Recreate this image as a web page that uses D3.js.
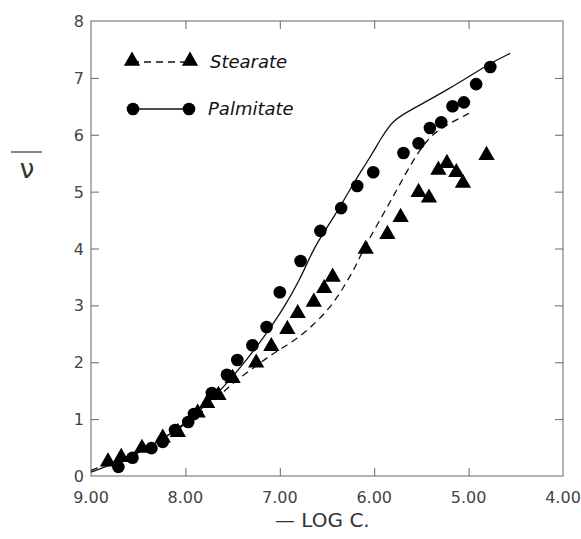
<!DOCTYPE html>
<html>
<head>
<meta charset="utf-8">
<script src="https://cdn.jsdelivr.net/npm/d3@7"></script>
<style>
  body { margin: 0; background: #fff; }
  text { font-family: "DejaVu Sans", "Liberation Sans", sans-serif; }
</style>
</head>
<body>
<script>
// -log C on x, nu-bar on y
let xTicks = [9, 8, 7, 6, 5, 4];
let xTickLabels = ['9.00', '8.00', '7.00', '6.00', '5.00', '4.00'];
let yTicks = [0, 1, 2, 3, 4, 5, 6, 7, 8];

// palmitate points (circles)
let palmX = [8.71, 8.56, 8.36, 8.24, 8.11, 7.97, 7.91, 7.72, 7.56, 7.45, 7.29, 7.14, 7.00,
    6.78, 6.57, 6.35, 6.18, 6.01, 5.69, 5.53, 5.41, 5.29, 5.17, 5.05, 4.92, 4.77];
let palmY = [0.16, 0.32, 0.49, 0.60, 0.81, 0.95, 1.09, 1.46, 1.78, 2.04, 2.30, 2.62, 3.23,
    3.78, 4.31, 4.71, 5.10, 5.34, 5.68, 5.85, 6.12, 6.22, 6.50, 6.57, 6.89, 7.19];

// stearate points (triangles)
let stearX = [8.82, 8.68, 8.46, 8.24, 8.08, 7.87, 7.77, 7.65, 7.50, 7.25, 7.09, 6.92, 6.81,
    6.64, 6.53, 6.44, 6.09, 5.86, 5.72, 5.53, 5.42, 5.32, 5.23, 5.13, 5.06, 4.81];
let stearY = [0.25, 0.33, 0.49, 0.67, 0.77, 1.11, 1.28, 1.42, 1.72, 1.99, 2.28, 2.58, 2.86,
    3.06, 3.30, 3.50, 3.99, 4.25, 4.55, 4.99, 4.89, 5.38, 5.50, 5.34, 5.15, 5.64];

// fitted curves
let palmCurveX = [9.00, 8.56, 8.11, 7.72, 7.56, 7.35, 7.14, 6.97, 6.79, 6.65, 6.54, 6.36,
    6.22, 6.04, 5.92, 5.80, 5.62, 5.23, 4.77, 4.56];
let palmCurveY = [0.07, 0.33, 0.77, 1.34, 1.63, 2.04, 2.51, 2.92, 3.44, 3.97, 4.27, 4.73,
    5.15, 5.61, 5.96, 6.26, 6.43, 6.78, 7.26, 7.43];
let stearCurveX = [9.00, 8.56, 8.11, 7.72, 7.56, 7.28, 7.07, 6.86, 6.65, 6.44, 6.29, 6.18,
    6.12, 5.94, 5.76, 5.59, 5.44, 5.30, 4.99];
let stearCurveY = [0.10, 0.37, 0.77, 1.25, 1.56, 1.90, 2.16, 2.36, 2.64, 3.01, 3.41, 3.74,
    3.97, 4.50, 5.03, 5.55, 5.91, 6.12, 6.38];

let width = 581, height = 539;
let margin = { top: 21, right: 18, bottom: 63, left: 91 };

let svg = d3.select("body")
    .append("svg")
    .attr("width", width)
    .attr("height", height);

let x = d3.scaleLinear().domain([9, 4]).range([margin.left, width - margin.right]);
let y = d3.scaleLinear().domain([0, 8]).range([height - margin.bottom, margin.top]);

let axisColor = '#666';
let tickLen = 8;

// frame
svg.append('rect')
    .attr('x', x(9))
    .attr('y', y(8))
    .attr('width', x(4) - x(9))
    .attr('height', y(0) - y(8))
    .attr('fill', 'none')
    .attr('stroke', axisColor)
    .attr('stroke-width', 1);

// axes, ticks pointing inward
svg.append('g')
    .attr('transform', `translate(0,${y(0)})`)
    .call(d3.axisTop(x).tickValues(xTicks.slice(1, 5)).tickSize(tickLen).tickFormat(''))
    .call(g => g.select('.domain').remove());
svg.append('g')
    .attr('transform', `translate(0,${y(8)})`)
    .call(d3.axisBottom(x).tickValues(xTicks.slice(1, 5)).tickSize(tickLen).tickFormat(''))
    .call(g => g.select('.domain').remove());
svg.append('g')
    .attr('transform', `translate(${x(9)},0)`)
    .call(d3.axisRight(y).tickValues(yTicks.slice(1, 8)).tickSize(tickLen).tickFormat(''))
    .call(g => g.select('.domain').remove());
svg.append('g')
    .attr('transform', `translate(${x(4)},0)`)
    .call(d3.axisLeft(y).tickValues(yTicks.slice(1, 8)).tickSize(tickLen).tickFormat(''))
    .call(g => g.select('.domain').remove());
svg.selectAll('.tick line').attr('stroke', axisColor);

// tick labels
svg.selectAll('.xlab')
    .data(xTicks)
    .enter().append('text')
    .attr('x', d => x(d))
    .attr('y', y(0) + 27)
    .attr('text-anchor', 'middle')
    .attr('font-size', 16)
    .attr('fill', '#444')
    .text((d, i) => xTickLabels[i]);

svg.selectAll('.ylab')
    .data(yTicks)
    .enter().append('text')
    .attr('x', x(9) - 7)
    .attr('y', d => y(d) + 6)
    .attr('text-anchor', 'end')
    .attr('font-size', 16)
    .attr('fill', '#444')
    .text(d => d);

// axis titles
svg.append('text')
    .attr('x', 275)
    .attr('y', 527)
    .attr('font-size', 20)
    .attr('fill', '#333')
    .text('\u2014 LOG C.');

svg.append('line')
    .attr('x1', 11).attr('x2', 42)
    .attr('y1', 152).attr('y2', 152)
    .attr('stroke', '#333')
    .attr('stroke-width', 1.2);
svg.append('text')
    .attr('x', 27)
    .attr('y', 178)
    .attr('text-anchor', 'middle')
    .attr('font-size', 26)
    .attr('font-family', '"DejaVu Serif", serif')
    .attr('fill', '#333')
    .text('\u03bd');

// curves - smooth b-spline through the traced points
let line = d3.line()
    .x(d => x(d[0]))
    .y(d => y(d[1]))
    .curve(d3.curveBasis);

svg.append('path')
    .datum(palmCurveX.map((v, i) => [v, palmCurveY[i]]))
    .attr('d', line)
    .attr('fill', 'none')
    .attr('stroke', '#111')
    .attr('stroke-width', 1.3);

svg.append('path')
    .datum(stearCurveX.map((v, i) => [v, stearCurveY[i]]))
    .attr('d', line)
    .attr('fill', 'none')
    .attr('stroke', '#111')
    .attr('stroke-width', 1.3)
    .attr('stroke-dasharray', '7,5');

let tri = d3.symbol().type(d3.symbolTriangle).size(115);

// markers
svg.selectAll('.stear')
    .data(stearX.map((v, i) => [v, stearY[i]]))
    .enter().append('path')
    .attr('d', tri)
    .attr('transform', d => `translate(${x(d[0])},${y(d[1])})`)
    .attr('fill', '#000');

svg.selectAll('.palm')
    .data(palmX.map((v, i) => [v, palmY[i]]))
    .enter().append('circle')
    .attr('cx', d => x(d[0]))
    .attr('cy', d => y(d[1]))
    .attr('r', 6.3)
    .attr('fill', '#000');

// legend
let legend = svg.append('g');
legend.append('line')
    .attr('x1', 132).attr('x2', 190)
    .attr('y1', 62).attr('y2', 62)
    .attr('stroke', '#111')
    .attr('stroke-width', 1.3)
    .attr('stroke-dasharray', '7,5');
legend.selectAll('.ltri')
    .data([132, 190])
    .enter().append('path')
    .attr('d', tri)
    .attr('transform', d => `translate(${d},61)`)
    .attr('fill', '#000');
legend.append('text')
    .attr('x', 210)
    .attr('y', 68)
    .attr('font-size', 18)
    .attr('font-style', 'italic')
    .attr('fill', '#111')
    .text('Stearate');

legend.append('line')
    .attr('x1', 133).attr('x2', 189)
    .attr('y1', 109).attr('y2', 109)
    .attr('stroke', '#111')
    .attr('stroke-width', 1.3);
legend.selectAll('.lcirc')
    .data([133, 189])
    .enter().append('circle')
    .attr('cx', d => d)
    .attr('cy', 109)
    .attr('r', 6.3)
    .attr('fill', '#000');
legend.append('text')
    .attr('x', 208)
    .attr('y', 115)
    .attr('font-size', 18)
    .attr('font-style', 'italic')
    .attr('fill', '#111')
    .text('Palmitate');
</script>
</body>
</html>
